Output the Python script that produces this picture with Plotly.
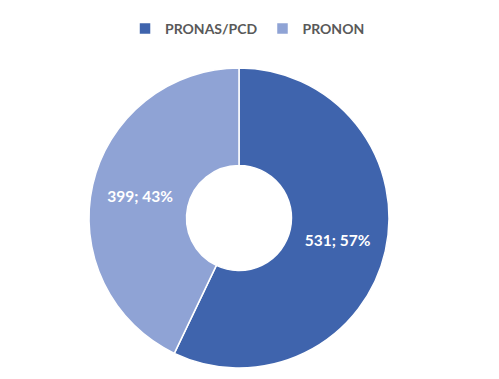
import plotly.graph_objects as go

labels = ["PRONAS/PCD", "PRONON"]
values = [531, 399]
colors = ["#3F64AD", "#8FA3D5"]

W, H = 499, 379
OFF = 8  # browser body margin
fig = go.Figure(go.Pie(
    labels=labels,
    values=values,
    hole=0.35,
    sort=False,
    direction="clockwise",
    rotation=0,
    domain=dict(x=[(89 - OFF) / W, (389 - OFF) / W],
                y=[1 - (368 - OFF) / H, 1 - (68 - OFF) / H]),
    marker=dict(colors=colors, line=dict(color="white", width=1.5)),
    texttemplate="%{value}; %{percent:.0%}",
    textposition="inside",
    insidetextorientation="horizontal",
    textfont=dict(color="white", size=15.5, family="Lato", weight="bold"),
))

fig.update_layout(
    width=W, height=H,
    margin=dict(l=0, r=0, t=0, b=0, autoexpand=False),
    paper_bgcolor="white",
    plot_bgcolor="white",
    showlegend=True,
    legend=dict(
        orientation="h",
        x=0.48, xref="paper", xanchor="center",
        y=0.987, yref="paper", yanchor="top",
        font=dict(color="#595959", size=14, family="Lato", weight="bold"),
        itemwidth=30,
        traceorder="normal",
    ),
)
fig.write_html("out.html")
